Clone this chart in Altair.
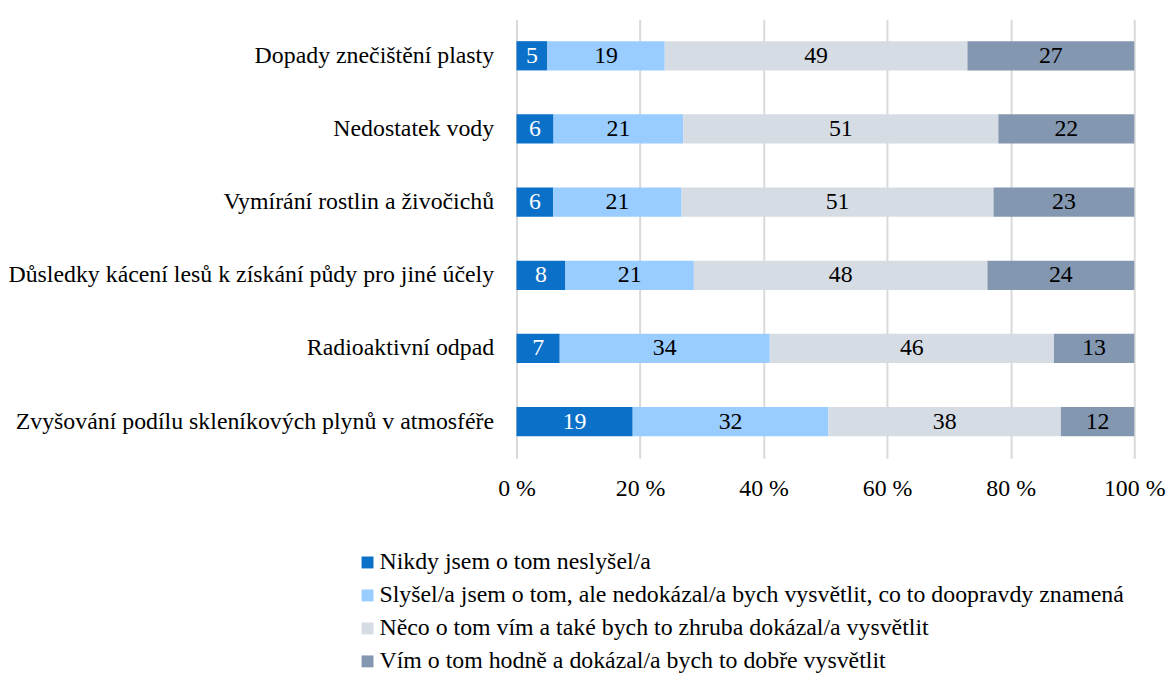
import altair as alt
import pandas as pd

categories = [
    "Dopady znečištění plasty",
    "Nedostatek vody",
    "Vymírání rostlin a živočichů",
    "Důsledky kácení lesů k získání půdy pro jiné účely",
    "Radioaktivní odpad",
    "Zvyšování podílu skleníkových plynů v atmosféře",
]
series = [
    "Nikdy jsem o tom neslyšel/a",
    "Slyšel/a jsem o tom, ale nedokázal/a bych vysvětlit, co to doopravdy znamená",
    "Něco o tom vím a také bych to zhruba dokázal/a vysvětlit",
    "Vím o tom hodně a dokázal/a bych to dobře vysvětlit",
]
never = [5, 6, 6, 8, 7, 19]
heard = [19, 21, 21, 21, 34, 32]
some = [49, 51, 51, 48, 46, 38]
much = [27, 22, 23, 24, 13, 12]
colors = ["#0A70C8", "#99CCFF", "#D6DCE4", "#8497B0"]
text_colors = ["white", "black", "black", "black"]

rows = []
for si, (s, vals) in enumerate(zip(series, [never, heard, some, much])):
    for c, v in zip(categories, vals):
        rows.append({"cat": c, "series": s, "order": si, "value": v, "tcolor": text_colors[si]})
df = pd.DataFrame(rows)

FONT = "Liberation Serif"
FS = 24

base = alt.Chart(df).transform_stack(
    stack="value", groupby=["cat"], as_=["x0", "x1"], offset="normalize",
    sort=[alt.SortField("order", order="ascending")],
).transform_calculate(mid="(datum.x0 + datum.x1) / 2")

yenc = alt.Y(
    "cat:N", sort=categories, title=None,
    scale=alt.Scale(paddingInner=0.6, paddingOuter=0.3),
    axis=alt.Axis(labelFont=FONT, labelFontSize=FS, labelColor="black", labelPadding=23,
                  ticks=False, domain=False, labelLimit=0),
)

bars = base.mark_bar(strokeWidth=0).encode(
    x=alt.X("x0:Q", title=None, scale=alt.Scale(domain=[0, 1], nice=False),
            axis=alt.Axis(values=[0, 0.2, 0.4, 0.6, 0.8, 1.0],
                          labelExpr="round(datum.value * 100) + ' %'",
                          labelFont=FONT, labelFontSize=FS, labelColor="black",
                          labelPadding=19, ticks=False, domain=False, labelFlush=False,
                          labelOverlap=False,
                          grid=True, gridColor="#D9D9D9", gridWidth=2)),
    x2="x1:Q",
    y=yenc,
    color=alt.Color("series:N", sort=series,
                    scale=alt.Scale(domain=series, range=colors),
                    legend=alt.Legend(title=None, orient="none", legendX=-162, legendY=535,
                                      direction="vertical", symbolType="square",
                                      symbolSize=144, symbolStrokeWidth=0,
                                      labelFont=FONT, labelFontSize=FS, labelColor="black",
                                      labelLimit=0, rowPadding=9.2, labelOffset=0,
                                      padding=0, symbolOffset=0)),
)

labels = base.mark_text(font=FONT, fontSize=FS, baseline="middle", align="center").encode(
    x="mid:Q",
    y=alt.Y("cat:N", sort=categories),
    text=alt.Text("value:Q"),
    color=alt.Color("tcolor:N", scale=None),
)

chart = alt.layer(bars, labels).properties(
    width=622, height=442,
    autosize=alt.AutoSizeParams(type="none"),
    padding={"left": 512, "top": 9, "right": 34, "bottom": 215},
).configure_view(stroke=None)

chart.save("out.html", embed_options={"renderer": "svg", "actions": False})
